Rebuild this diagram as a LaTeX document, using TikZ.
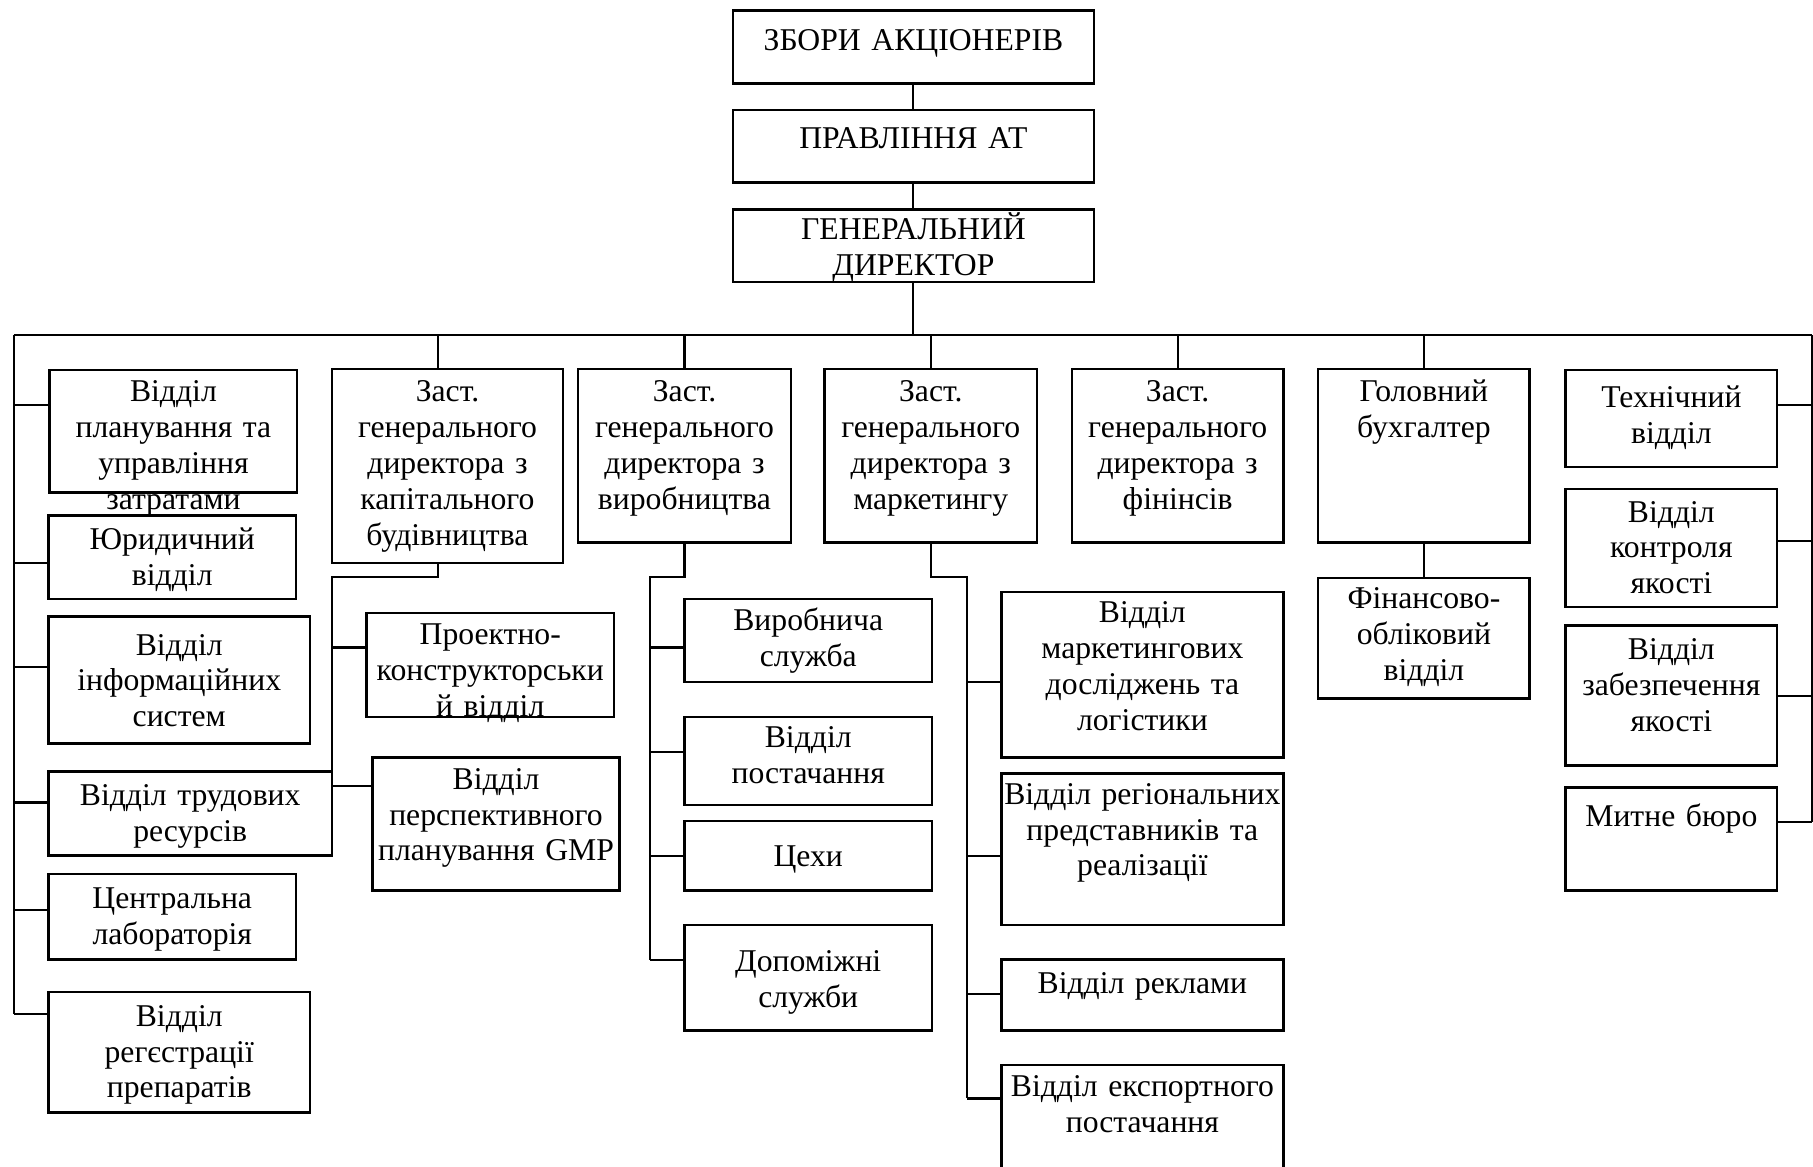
\documentclass[tikz,border=0pt]{standalone}
\usepackage{fontspec}
\setmainfont{Liberation Serif}
\usetikzlibrary{fit}

% \orgbox{name}{left}{top}{right}{bottom}{first baseline}{text}
\newcommand{\orgbox}[7]{%
  \node[box, fit={(#2,#3) (#4,#5)}] (#1) {};
  \node[lbl] (#1-t) at ({(#2+#4)/2},#6) {#7};%
}

\begin{document}
\begin{tikzpicture}[x=0.5pt,y=-0.5pt,
  box/.style={draw=black, line width=1.1pt, inner sep=0pt, outer sep=0pt},
  lbl/.style={anchor=base, align=center, text width=220pt, inner sep=0pt,
    font=\fontsize{13.7pt}{15.5pt}\selectfont},
  conn/.style={draw=black, line width=0.9pt}]

\useasboundingbox (0,0) rectangle (1568,1009);
\clip (0,0) rectangle (1568,1009);

% top of the hierarchy
\orgbox{zbory}{634}{9}{946}{72}{43.5}{ЗБОРИ АКЦІОНЕРІВ}
\orgbox{pravl}{634}{95}{946}{158}{128.5}{ПРАВЛІННЯ АТ}
\orgbox{gendir}{634}{181}{946}{244}{207.5}{ГЕНЕРАЛЬНИЙ\\ДИРЕКТОР}

% left column (directly under the director)
\orgbox{a1}{43}{320}{257}{426}{347.5}{Відділ\\планування та\\управління\\затратами}
\orgbox{a2}{42}{446}{256}{518}{475.5}{Юридичний\\відділ}
\orgbox{a3}{42}{533}{268}{643}{566.5}{Відділ\\інформаційних\\систем}
\orgbox{a4}{42}{667}{287}{740}{696.5}{Відділ трудових\\ресурсів}
\orgbox{a5}{42}{756}{256}{830}{785.5}{Центральна\\лабораторія}
\orgbox{a6}{42}{858}{268}{962}{887.5}{Відділ\\регєстрації\\препаратів}

% deputy for capital construction
\orgbox{b}{287}{319}{487}{487}{347.5}{Заст.\\генерального\\директора з\\капітального\\будівництва}
\orgbox{b1}{317}{530}{531}{620}{557.5}{Проектно-\\конструкторськи\\й відділ}
\orgbox{b2}{322}{655}{536}{770}{682.5}{Відділ\\перспективного\\планування GMP}

% deputy for production
\orgbox{c}{500}{319}{684}{469}{347.5}{Заст.\\генерального\\директора з\\виробництва}
\orgbox{c1}{592}{518}{806}{590}{545.5}{Виробнича\\служба}
\orgbox{c2}{592}{620}{806}{696}{646.5}{Відділ\\постачання}
\orgbox{c3}{592}{710}{806}{770}{749.5}{Цехи}
\orgbox{c4}{592}{800}{806}{891}{840.5}{Допоміжні\\служби}

% deputy for marketing
\orgbox{d}{713}{319}{897}{469}{347.5}{Заст.\\генерального\\директора з\\маркетингу}
\orgbox{d1}{866}{512}{1110}{655}{538.5}{Відділ\\маркетингових\\досліджень та\\логістики}
\orgbox{d2}{866}{669}{1110}{800}{695.5}{Відділ регіональних\\представників та\\реалізації}
\orgbox{d3}{866}{830}{1110}{891}{859.5}{Відділ реклами}
\orgbox{d4}{866}{921}{1110}{1030}{948.5}{Відділ експортного\\постачання}

% deputy for finance
\orgbox{e}{927}{319}{1110}{469}{347.5}{Заст.\\генерального\\директора з\\фінінсів}

% chief accountant
\orgbox{f}{1140}{319}{1323}{469}{347.5}{Головний\\бухгалтер}
\orgbox{f1}{1140}{500}{1323}{604}{526.5}{Фінансово-\\обліковий\\відділ}

% right column
\orgbox{g1}{1354}{320}{1537}{404}{352.5}{Технічний\\відділ}
\orgbox{g2}{1354}{423}{1537}{525}{451.5}{Відділ\\контроля\\якості}
\orgbox{g3}{1354}{541}{1537}{662}{570.5}{Відділ\\забезпечення\\якості}
\orgbox{g4}{1354}{681}{1537}{770}{714.5}{Митне бюро}

% bus and trunk coordinates
\coordinate (busL) at (12,290);
\coordinate (busR) at (1567,290);
\coordinate (leftEnd) at (12,877);
\coordinate (rightEnd) at (1567,711);
\coordinate (bdrop) at (379,290);
\coordinate (cbus) at (562,830);
\coordinate (dbus) at (836,950);

% top chain
\draw[conn] (zbory.south) -- (pravl.north);
\draw[conn] (pravl.south) -- (gendir.north);
\draw[conn] (gendir.south) -- (gendir.south |- busL);

% main bus with its drops
\draw[conn] (busL) -- (busR);
\draw[conn] (busL) -- (leftEnd);
\draw[conn] (busR) -- (rightEnd);
\draw[conn] (bdrop) -- (bdrop |- b.north);
\draw[conn] (c.north |- busL) -- (c.north);
\draw[conn] (d.north |- busL) -- (d.north);
\draw[conn] (e.north |- busL) -- (e.north);
\draw[conn] (f.north |- busL) -- (f.north);

% left column stubs
\draw[conn] (busL |- 0,350) -- (a1.west |- 0,350);
\draw[conn] (busL |- 0,487) -- (a2.west |- 0,487);
\draw[conn] (busL |- 0,577) -- (a3.west |- 0,577);
\draw[conn] (busL |- 0,694) -- (a4.west |- 0,694);
\draw[conn] (busL |- 0,787) -- (a5.west |- 0,787);
\draw[conn] (leftEnd) -- (a6.west |- leftEnd);

% capital construction branch
\draw[conn] (bdrop |- b.south) -- ++(0,12) -| (a4.north east);
\draw[conn] (a4.north east |- 0,560) -- (b1.west |- 0,560);
\draw[conn] (a4.north east |- 0,680) -- (b2.west |- 0,680);

% production branch
\draw[conn] (c.south) -- ++(0,30) -| (cbus);
\draw[conn] (cbus |- 0,560) -- (c1.west |- 0,560);
\draw[conn] (cbus |- 0,650) -- (c2.west |- 0,650);
\draw[conn] (cbus |- 0,740) -- (c3.west |- 0,740);
\draw[conn] (cbus) -- (c4.west |- cbus);

% marketing branch
\draw[conn] (d.south) -- ++(0,30) -| (dbus);
\draw[conn] (dbus |- 0,590) -- (d1.west |- 0,590);
\draw[conn] (dbus |- 0,740) -- (d2.west |- 0,740);
\draw[conn] (dbus |- 0,860) -- (d3.west |- 0,860);
\draw[conn] (dbus) -- (d4.west |- dbus);

% accounting
\draw[conn] (f.south) -- (f1.north);

% right column stubs
\draw[conn] (g1.east |- 0,350) -- (busR |- 0,350);
\draw[conn] (g2.east |- 0,468) -- (busR |- 0,468);
\draw[conn] (g3.east |- 0,602) -- (busR |- 0,602);
\draw[conn] (g4.east |- rightEnd) -- (rightEnd);

\end{tikzpicture}
\end{document}
